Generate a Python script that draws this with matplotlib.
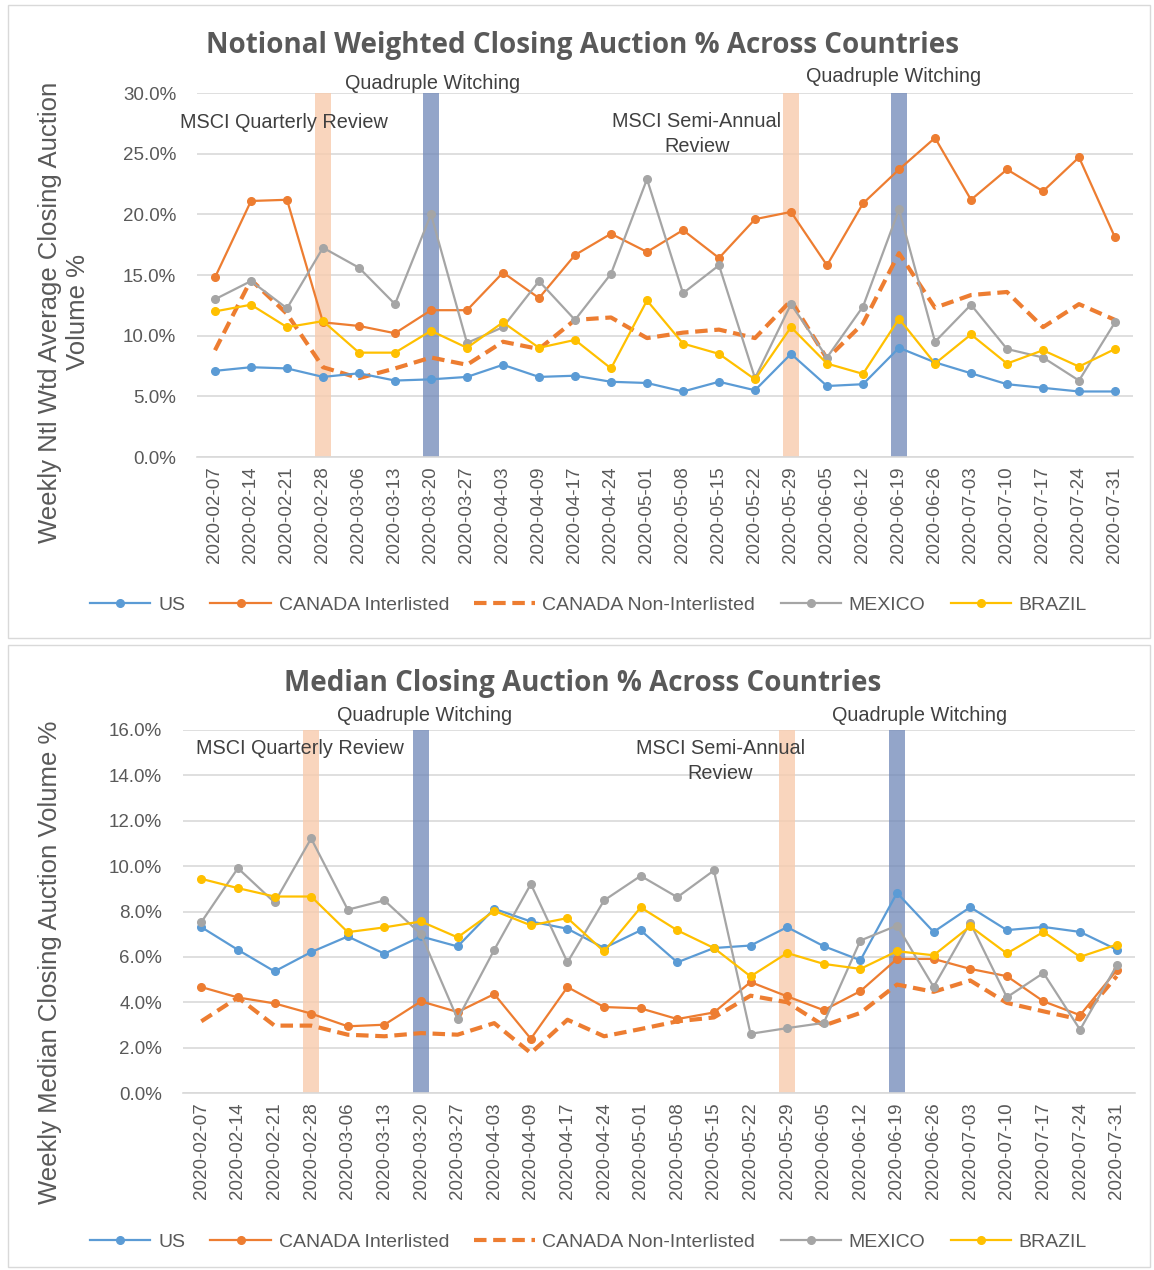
import numpy as np
import matplotlib
matplotlib.use("Agg")
import matplotlib.pyplot as plt
from matplotlib.patches import Rectangle
from matplotlib.lines import Line2D
from matplotlib.ticker import FuncFormatter, MultipleLocator

plt.rcParams['font.family'] = ['Liberation Sans', 'DejaVu Sans']

# Weekly dates (categories)
dates = ["2020-02-07", "2020-02-14", "2020-02-21", "2020-02-28", "2020-03-06",
         "2020-03-13", "2020-03-20", "2020-03-27", "2020-04-03", "2020-04-09",
         "2020-04-17", "2020-04-24", "2020-05-01", "2020-05-08", "2020-05-15",
         "2020-05-22", "2020-05-29", "2020-06-05", "2020-06-12", "2020-06-19",
         "2020-06-26", "2020-07-03", "2020-07-10", "2020-07-17", "2020-07-24",
         "2020-07-31"]

# Top chart: notional weighted (%)
ntl_us = [7.1, 7.4, 7.3, 6.6, 6.9, 6.3, 6.4, 6.6, 7.6, 6.6, 6.7, 6.2, 6.1,
          5.4, 6.2, 5.5, 8.5, 5.85, 6.0, 9.0, 7.8, 6.9, 6.0, 5.7, 5.4, 5.4]
ntl_can_inter = [14.8, 21.1, 21.2, 11.1, 10.8, 10.2, 12.1, 12.1, 15.2, 13.1,
                 16.65, 18.4, 16.9, 18.7, 16.4, 19.6, 20.2, 15.8, 20.9, 23.7,
                 26.3, 21.2, 23.7, 21.9, 24.7, 18.1]
ntl_can_non = [8.8, 14.6, 11.8, 7.4, 6.5, 7.3, 8.2, 7.6, 9.5, 8.9, 11.3, 11.5,
               9.8, 10.25, 10.5, 9.8, 12.9, 8.1, 11.0, 16.8, 12.3, 13.35, 13.6,
               10.7, 12.6, 11.3]
ntl_mexico = [13.0, 14.5, 12.25, 17.25, 15.6, 12.6, 20.0, 9.4, 10.7, 14.5, 11.3,
              15.1, 22.9, 13.5, 15.8, 6.5, 12.6, 8.2, 12.4, 20.4, 9.5, 12.55,
              8.9, 8.2, 6.3, 11.1]
ntl_brazil = [12.0, 12.55, 10.7, 11.2, 8.6, 8.6, 10.4, 9.0, 11.1, 9.0, 9.65, 7.3,
              12.9, 9.35, 8.5, 6.4, 10.7, 7.7, 6.85, 11.4, 7.7, 10.1, 7.7, 8.8,
              7.45, 8.9]

# Bottom chart: median (%)
med_us = [7.31, 6.31, 5.36, 6.21, 6.9, 6.14, 6.9, 6.46, 8.12, 7.56, 7.24, 6.39,
          7.17, 5.76, 6.39, 6.5, 7.31, 6.47, 5.85, 8.82, 7.1, 8.19, 7.18, 7.32,
          7.1, 6.32]
med_can_inter = [4.67, 4.21, 3.95, 3.5, 2.94, 3.01, 4.04, 3.57, 4.36, 2.39, 4.67,
                 3.79, 3.73, 3.26, 3.55, 4.89, 4.26, 3.65, 4.49, 5.91, 5.91, 5.47,
                 5.15, 4.04, 3.43, 5.41]
med_can_non = [3.16, 4.21, 2.97, 2.97, 2.57, 2.5, 2.64, 2.57, 3.08, 1.76, 3.23,
               2.5, 2.82, 3.16, 3.33, 4.29, 4.0, 2.97, 3.53, 4.78, 4.46, 4.96,
               3.97, 3.6, 3.24, 5.15]
med_mexico = [7.53, 9.91, 8.4, 11.22, 8.08, 8.49, 7.0, 3.26, 6.31, 9.21, 5.76,
              8.49, 9.57, 8.63, 9.81, 2.61, 2.86, 3.09, 6.72, 7.38, 4.68, 7.5,
              4.22, 5.29, 2.79, 5.62]
med_brazil = [9.44, 9.03, 8.66, 8.66, 7.09, 7.3, 7.56, 6.86, 8.03, 7.39, 7.71,
              6.24, 8.18, 7.17, 6.39, 5.14, 6.17, 5.69, 5.47, 6.25, 6.07, 7.35,
              6.15, 7.1, 6.0, 6.54]

msci_weeks = ["2020-02-28", "2020-05-29"]
witching_weeks = ["2020-03-20", "2020-06-19"]

names = ["US", "CANADA Interlisted", "CANADA Non-Interlisted", "MEXICO", "BRAZIL"]
colors = ["#5B9BD5", "#ED7D31", "#ED7D31", "#A5A5A5", "#FFC000"]
text_col = "#404040"

W, H = 1154, 1270
fig = plt.figure(figsize=(W / 100, H / 100), dpi=100)

# panel borders
for (y0, y1) in [(5, 638), (645, 1267)]:
    fig.patches.append(Rectangle((8 / W, 1 - y1 / H), (1150 - 8) / W, (y1 - y0) / H,
                                 transform=fig.transFigure, fill=False,
                                 edgecolor="#D9D9D9", linewidth=1))


def draw_panel(rect, series, ymax, ystep, title, title_y, ylabel, ylabel_x, ylabel_y,
               notes, legend_y):
    ax = fig.add_axes(rect)
    x = np.arange(len(dates))
    for d in msci_weeks:
        ax.bar(dates.index(d), ymax, width=0.42, color="#F8CBAD", alpha=0.8,
               zorder=1, linewidth=0)
    for d in witching_weeks:
        ax.bar(dates.index(d), ymax, width=0.42, color="#6F87B7", alpha=0.75,
               zorder=1, linewidth=0)
    for i, (vals, c) in enumerate(zip(series, colors)):
        if i == 2:
            ax.plot(x, vals, color=c, lw=3, ls=(0, (3, 1.6)), zorder=3)
        else:
            ax.plot(x, vals, color=c, lw=1.6, marker="o", ms=5.5, zorder=4)
    ax.set_xlim(-0.5, len(dates) - 0.5)
    ax.set_ylim(0, ymax)
    ax.yaxis.set_major_locator(MultipleLocator(ystep))
    ax.yaxis.set_major_formatter(FuncFormatter(lambda v, p: f"{v:.1f}%"))
    ax.grid(axis="y", color="#D9D9D9", lw=1.2, zorder=0)
    ax.set_axisbelow(True)
    for s in ["top", "right", "left"]:
        ax.spines[s].set_visible(False)
    ax.spines["bottom"].set_color("#D9D9D9")
    ax.spines["bottom"].set_linewidth(1.2)
    ax.set_xticks(x)
    ax.set_xticklabels(dates, rotation=90)
    ax.tick_params(axis="both", length=0, labelsize=13.5, labelcolor="#595959")
    ax.tick_params(axis="x", pad=7)
    ax.tick_params(axis="y", pad=15)

    fig.text(0.505, title_y, title, ha="center", va="center", fontsize=20,
             fontweight="bold", color="#595959", family=["Open Sans", "DejaVu Sans"])
    fig.text(ylabel_x, ylabel_y, ylabel, rotation=90, ha="center", va="center",
             fontsize=18.5, color="#595959", multialignment="center",
             linespacing=1.2)
    for (tx, ty, s, ha) in notes:
        ax.text(tx, ty, s, transform=ax.get_xaxis_transform(), ha=ha, va="center",
                fontsize=14.3, color=text_col, multialignment="center",
                linespacing=1.4, zorder=5)

    handles = []
    for i, c in enumerate(colors):
        if i == 2:
            handles.append(Line2D([], [], color=c, lw=3, ls=(0, (3, 1.6))))
        else:
            handles.append(Line2D([], [], color=c, lw=1.6, marker="o", ms=5.5))
    fig.legend(handles, names, loc="center", bbox_to_anchor=(0.51, legend_y),
               ncol=5, frameon=False, fontsize=14, handlelength=3.1,
               columnspacing=1.3, handletextpad=0.4, labelcolor="#595959")
    return ax


top_series = [ntl_us, ntl_can_inter, ntl_can_non, ntl_mexico, ntl_brazil]
bot_series = [med_us, med_can_inter, med_can_non, med_mexico, med_brazil]

draw_panel([197 / W, 1 - 457 / H, 936 / W, 364 / H], top_series, 30, 5,
           "Notional Weighted Closing Auction % Across Countries", 1 - 46 / H,
           "Weekly Ntl Wtd Average Closing Auction\nVolume %", 64 / W, 1 - 312 / H,
           [(6.03, 1.025, "Quadruple Witching", "center"),
            (18.86, 1.044, "Quadruple Witching", "center"),
            (-0.97, 0.920, "MSCI Quarterly Review", "left"),
            (13.39, 0.887, "MSCI Semi-Annual\nReview", "center")],
           1 - 605 / H)

draw_panel([183 / W, 1 - 1093 / H, 952 / W, 363 / H], bot_series, 16, 2,
           "Median Closing Auction % Across Countries", 1 - 683 / H,
           "Weekly Median Closing Auction Volume %", 50 / W, 1 - 962 / H,
           [(6.09, 1.039, "Quadruple Witching", "center"),
            (19.62, 1.039, "Quadruple Witching", "center"),
            (-0.14, 0.948, "MSCI Quarterly Review", "left"),
            (14.18, 0.915, "MSCI Semi-Annual\nReview", "center")],
           1 - 1242 / H)

fig.savefig("out.png", dpi=100)
